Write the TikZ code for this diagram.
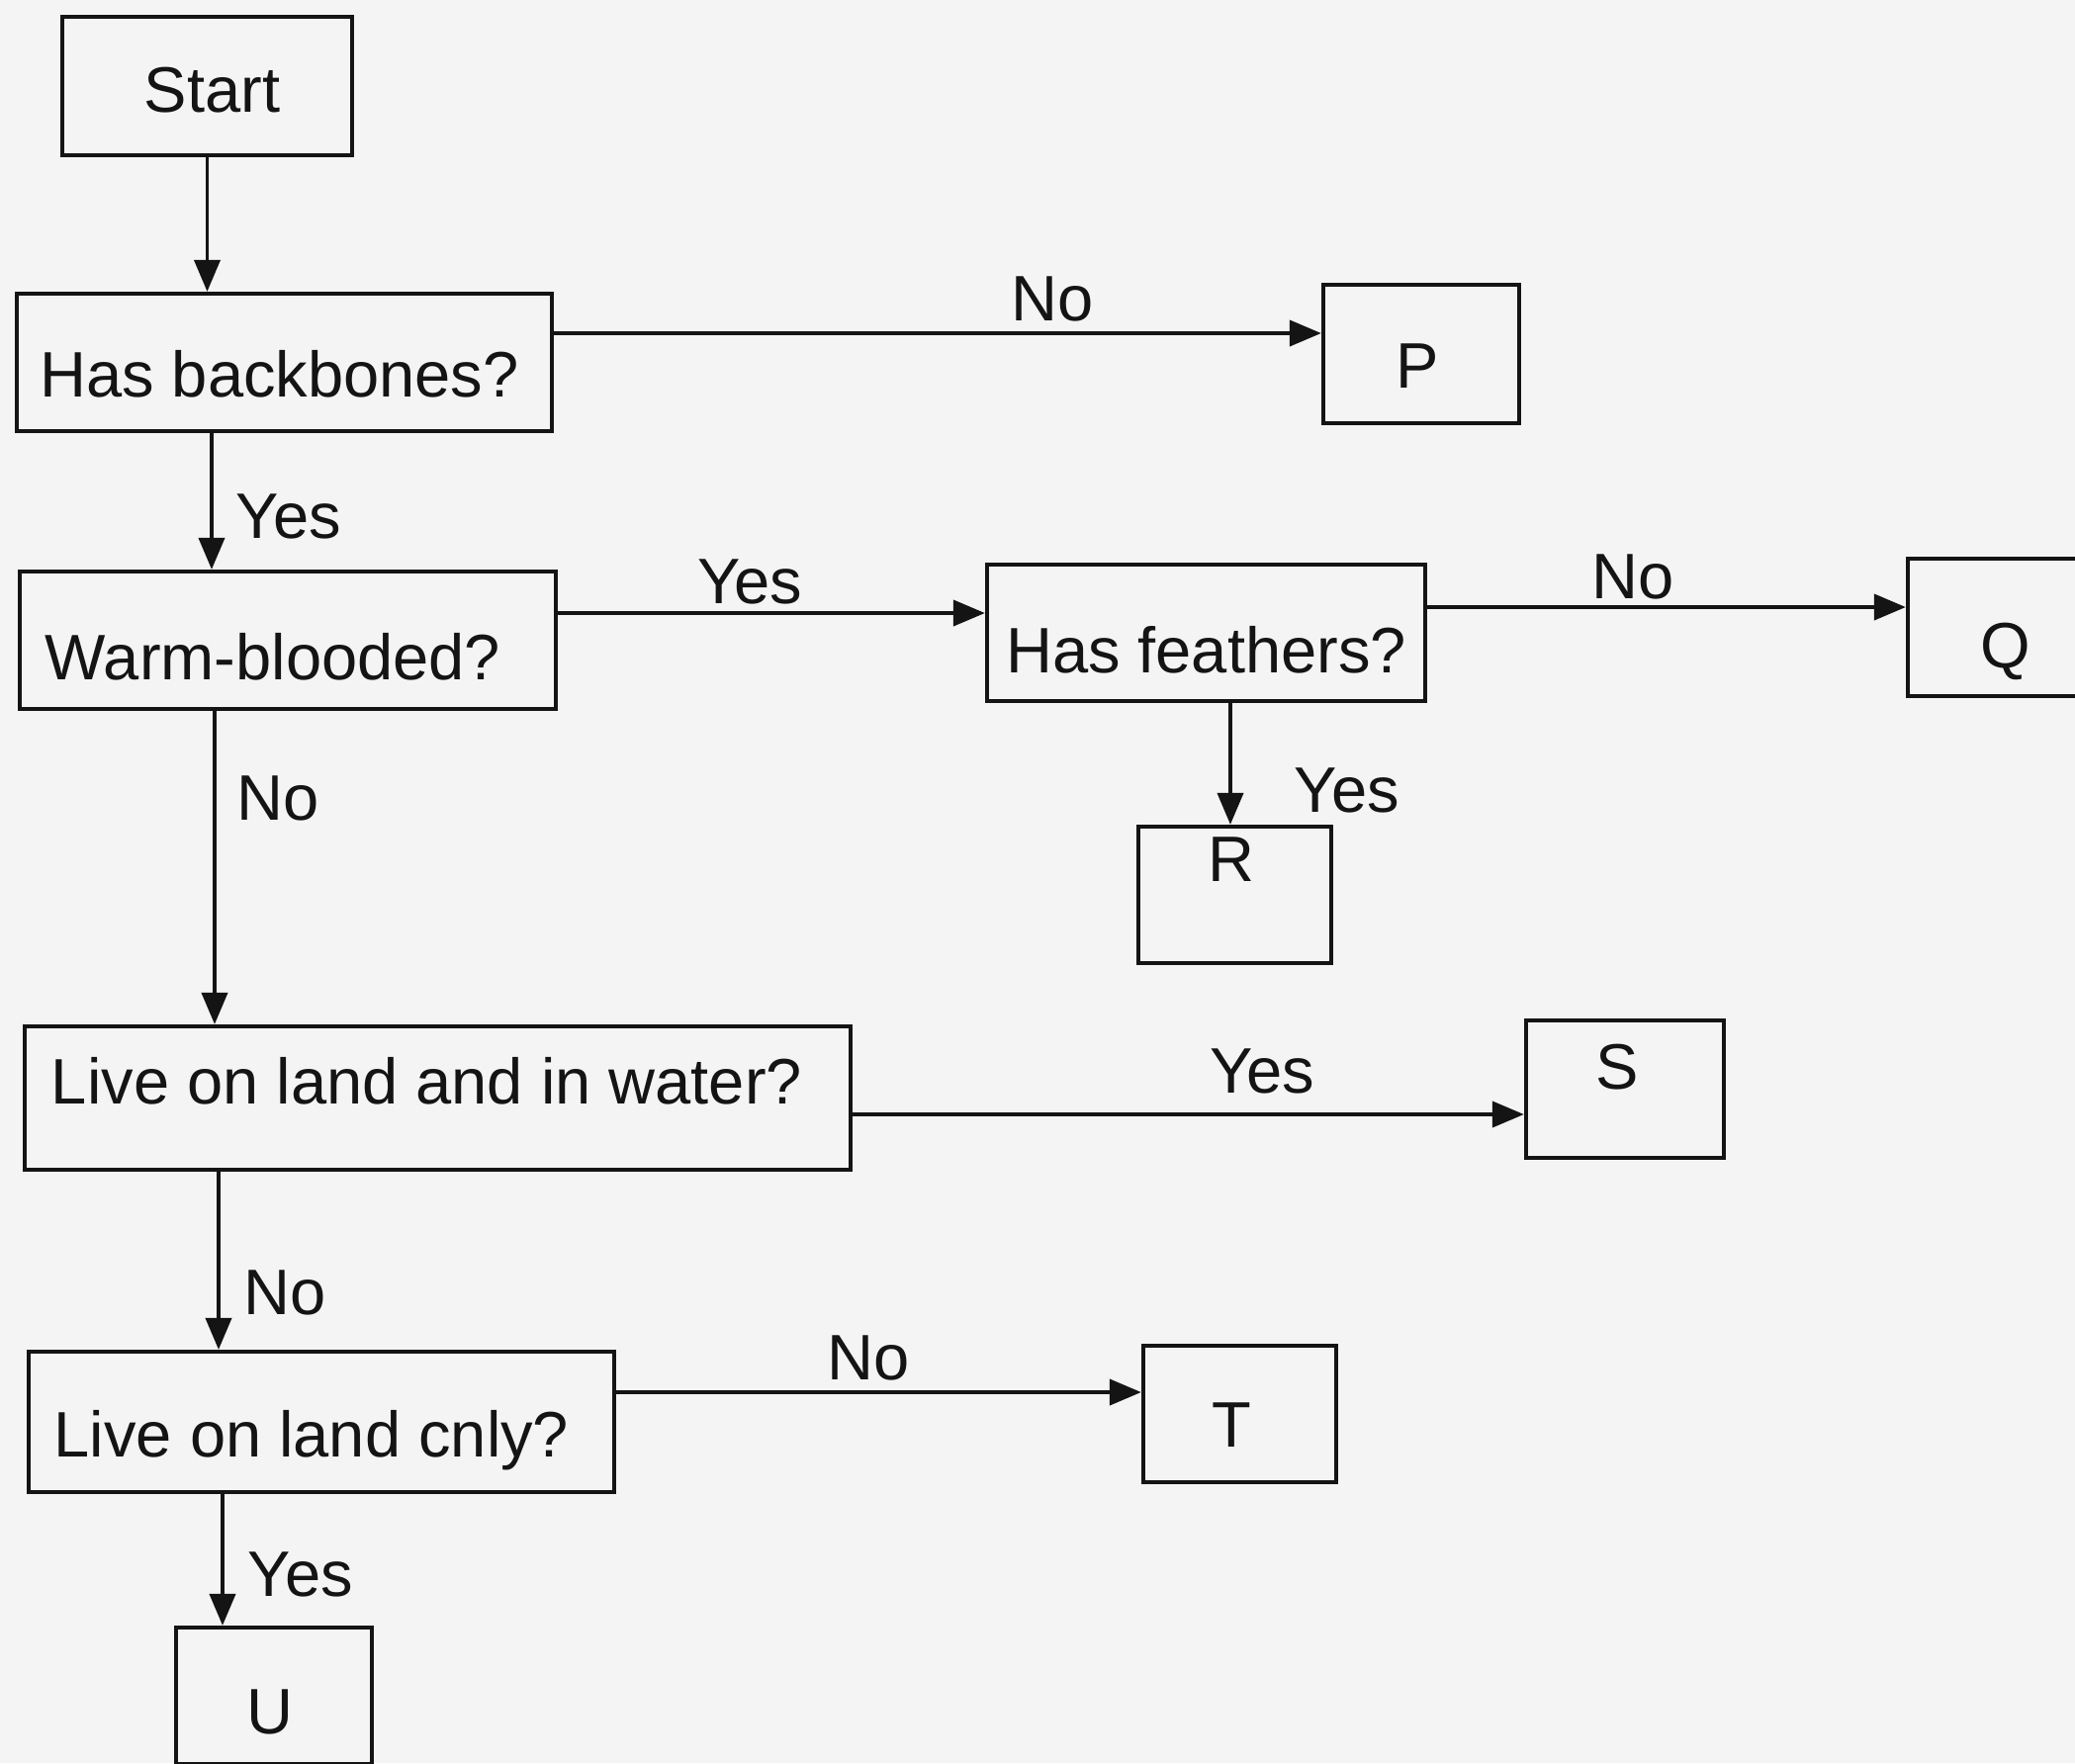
\documentclass[tikz,border=0pt]{standalone}
\usepackage{fontspec}
\setmainfont{Liberation Sans}
\usetikzlibrary{arrows.meta}
\definecolor{kbpaper}{HTML}{F4F4F4}
\definecolor{kbink}{HTML}{141414}

\begin{document}
\begin{tikzpicture}[x=1cm,y=1cm,
    box/.style={draw=kbink,line width=1.2pt,inner sep=0pt,minimum height=1.39cm},
    txt/.style={font=\fontsize{18.5}{22}\selectfont,text=kbink,inner sep=0pt,text height=0.72em,text depth=0.2em},
    flow/.style={-{Triangle[length=0.32cm,width=0.26cm]},draw=kbink,line width=1.1pt},
    lbl/.style={font=\fontsize{18.5}{22}\selectfont,text=kbink,inner sep=0pt}]
  \fill[kbpaper] (0,0) rectangle (20.98,-17.83);
  \clip (0,0) rectangle (20.98,-17.83);
  % boxes
  \node[box,minimum width=2.93cm,minimum height=1.40cm,label={[txt,xshift=0.5mm,yshift=-1.7mm]center:Start}] (start) at (2.095,-0.87) {};
  \node[box,minimum width=5.41cm,label={[txt,xshift=-0.5mm,yshift=-2.6mm]center:Has backbones?}] (hb) at (2.875,-3.665) {};
  \node[box,minimum width=1.98cm,minimum height=1.40cm,label={[txt,xshift=-0.4mm,yshift=-2.5mm]center:P}] (P) at (14.37,-3.58) {};
  \node[box,minimum width=5.42cm,label={[txt,xshift=-1.5mm,yshift=-3.1mm]center:Warm-blooded?}] (warm) at (2.91,-6.475) {};
  \node[box,minimum width=4.43cm,minimum height=1.38cm,label={[txt,yshift=-3.1mm]center:Has feathers?}] (feath) at (12.195,-6.40) {};
  \node[box,minimum width=1.98cm,label={[txt,yshift=-3.2mm]center:Q}] (Q) at (20.28,-6.345) {};
  \node[box,minimum width=1.95cm,minimum height=1.38cm,label={[txt,xshift=-0.4mm,yshift=2.3mm]center:R}] (R) at (12.485,-9.05) {};
  \node[box,minimum width=8.35cm,minimum height=1.45cm,label={[txt,xshift=-1.1mm,yshift=0.3mm]center:Live on land and in water?}] (water) at (4.425,-11.105) {};
  \node[box,minimum width=2.0cm,label={[txt,xshift=-0.8mm,yshift=0.9mm]center:S}] (S) at (16.43,-11.015) {};
  \node[box,minimum width=5.92cm,minimum height=1.42cm,label={[txt,xshift=-1mm,yshift=-2.6mm]center:Live on land cnly?}] (only) at (3.25,-14.38) {};
  \node[box,minimum width=1.95cm,minimum height=1.38cm,label={[txt,xshift=-0.8mm,yshift=-2.4mm]center:T}] (T) at (12.535,-14.30) {};
  \node[box,minimum width=1.98cm,minimum height=1.38cm,label={[txt,xshift=-0.4mm,yshift=-2.9mm]center:U}] (U) at (2.77,-17.15) {};
  % connector ends
  \coordinate (hbP) at ([yshift=2.95mm]hb.east);
  \coordinate (hbW) at ([xshift=-7.35mm]hb.south);
  \coordinate (wmF) at ([yshift=2.75mm]warm.east);
  \coordinate (wmL) at ([xshift=-7.4mm]warm.south);
  \coordinate (ftQ) at ([yshift=2.6mm]feath.east);
  \coordinate (ftR) at ([xshift=2.45mm]feath.south);
  \coordinate (waS) at ([yshift=-1.65mm]water.east);
  \coordinate (waO) at ([xshift=-22.15mm]water.south);
  \coordinate (onT) at ([yshift=3mm]only.east);
  \coordinate (onU) at ([xshift=-10mm]only.south);
  % arrows
  \draw[flow] (start.south) -- (start.south |- hb.north);
  \draw[flow] (hbP) -- (hbP -| P.west) node[lbl,pos=0.65,above=1mm] {No};
  \draw[flow] (hbW) -- (hbW |- warm.north) node[lbl,pos=0.61,right=2.3mm] {Yes};
  \draw[flow] (wmF) -- (wmF -| feath.west) node[lbl,pos=0.45,above=0.7mm] {Yes};
  \draw[flow] (ftQ) -- (ftQ -| Q.west) node[lbl,pos=0.43,above=0.6mm] {No};
  \draw[flow] (ftR) -- (ftR |- R.north) node[lbl,pos=0.72,right=6.3mm] {Yes};
  \draw[flow] (wmL) -- (wmL |- water.north) node[lbl,pos=0.28,right=2.1mm] {No};
  \draw[flow] (waS) -- (waS -| S.west) node[lbl,pos=0.61,above=1.9mm] {Yes};
  \draw[flow] (waO) -- (waO |- only.north) node[lbl,pos=0.68,right=2.4mm] {No};
  \draw[flow] (onT) -- (onT -| T.west) node[lbl,pos=0.48,above=1mm] {No};
  \draw[flow] (onU) -- (onU |- U.north) node[lbl,pos=0.61,right=2.4mm] {Yes};
\end{tikzpicture}
\end{document}
